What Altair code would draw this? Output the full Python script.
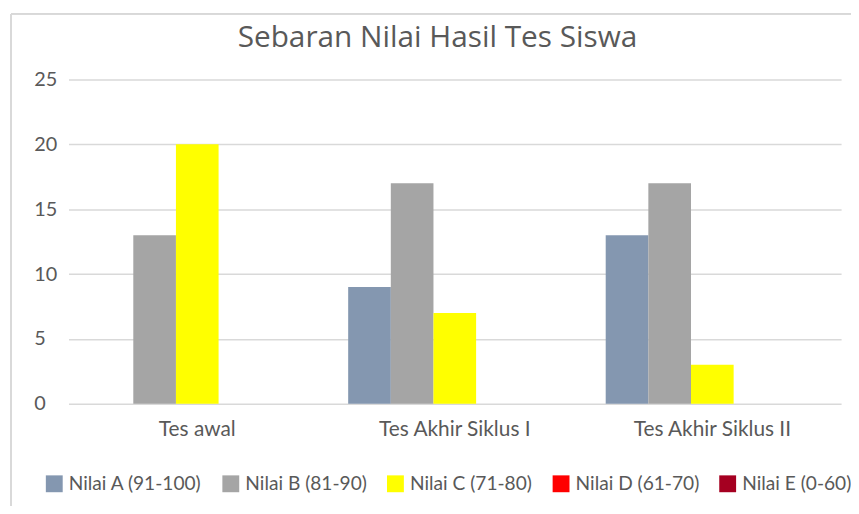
import altair as alt
import pandas as pd

title_text = "Sebaran Nilai Hasil Tes Siswa"
categories = ["Tes awal", "Tes Akhir Siklus I", "Tes Akhir Siklus II"]
series = ["Nilai A (91-100)", "Nilai B (81-90)", "Nilai C (71-80)", "Nilai D (61-70)", "Nilai E (0-60)"]
colors = ["#8497B0", "#A5A5A5", "#FFFF00", "#FF0000", "#A50021"]
nilai_a = [0, 9, 13]
nilai_b = [13, 17, 17]
nilai_c = [20, 7, 3]
nilai_d = [0, 0, 0]
nilai_e = [0, 0, 0]

rows = []
for s, vals in zip(series, [nilai_a, nilai_b, nilai_c, nilai_d, nilai_e]):
    for c, v in zip(categories, vals):
        rows.append({"Tes": c, "Seri": s, "Jumlah": v})
df = pd.DataFrame(rows)

FONT = "Lato"
GREY = "#595959"

bars = alt.Chart(df).mark_bar().encode(
    x=alt.X("Tes:N", sort=categories, title=None,
            scale=alt.Scale(paddingInner=0.172, paddingOuter=0.086),
            axis=alt.Axis(labelAngle=0, labelFontSize=21, labelColor=GREY, labelFont=FONT,
                          labelPadding=15, ticks=False, domain=False)),
    xOffset=alt.XOffset("Seri:N", sort=series, scale=alt.Scale(paddingInner=0, paddingOuter=0)),
    y=alt.Y("Jumlah:Q", title=None,
            scale=alt.Scale(domain=[0, 25]),
            axis=alt.Axis(values=[0, 5, 10, 15, 20, 25], labelFontSize=20, labelColor=GREY,
                          labelFont=FONT, labelAlign="left", labelPadding=35, ticks=False,
                          domain=False, gridColor="#D9D9D9", gridWidth=1.5)),
    color=alt.Color("Seri:N", sort=series,
                    scale=alt.Scale(domain=series, range=colors),
                    legend=alt.Legend(title=None, orient="none", direction="horizontal",
                                      legendX=-24, legendY=398,
                                      symbolType="square", symbolSize=289, symbolStrokeWidth=0,
                                      labelFontSize=19.3, labelColor=GREY, labelFont=FONT,
                                      columnPadding=19, symbolOffset=0, labelOffset=5)),
)

frame_left = alt.Chart(df).mark_rule(color="#D9D9D9", strokeWidth=1).encode(
    x=alt.value(-58), y=alt.value(-66), y2=alt.value(460))
frame_top = alt.Chart(df).mark_rule(color="#D9D9D9", strokeWidth=1).encode(
    x=alt.value(-58), x2=alt.value(800), y=alt.value(-66))

title = alt.Chart(pd.DataFrame({"t": [title_text]})).mark_text(
    font="Open Sans", fontSize=30, color=GREY, align="center", baseline="alphabetic"
).encode(text="t:N", x=alt.value(372), y=alt.value(-33))

chart = alt.layer(frame_left, frame_top, bars, title).properties(
    width=779, height=327,
    padding={"left": 61, "top": 70, "right": 10, "bottom": 101},
    autosize=alt.AutoSizeParams(type="none"),
).configure_view(stroke=None)

chart.save("out.html", embed_options={"renderer": "svg", "actions": False})
